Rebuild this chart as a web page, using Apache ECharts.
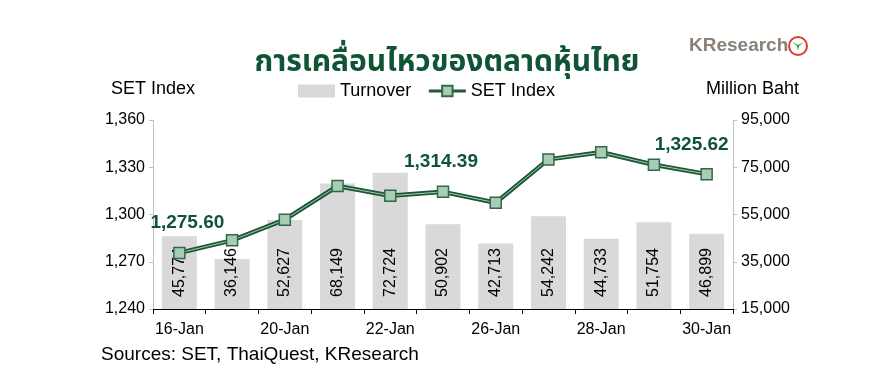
<!DOCTYPE html>
<html><head><meta charset="utf-8">
<script src="https://cdn.jsdelivr.net/npm/echarts@6/dist/echarts.min.js"></script>
<style>html,body{margin:0;padding:0;background:#fff}#c{width:892px;height:380px}</style>
</head><body><div id="c"></div>
<script>
const categories = ['16-Jan','19-Jan','20-Jan','21-Jan','22-Jan','23-Jan','26-Jan','27-Jan','28-Jan','29-Jan','30-Jan'];
const turnover = [45774, 36146, 52627, 68149, 72724, 50902, 42713, 54242, 44733, 51754, 46899];
const setIndex = [1275.60, 1283.6, 1296.7, 1318.1, 1311.9, 1314.39, 1307.5, 1335.0, 1339.5, 1331.6, 1325.62];
const labeledPoints = [0, 5, 10];
const leftTicks = {min: 1240, max: 1360, interval: 30};
const rightTicks = {min: 15000, max: 95000, interval: 20000};

const FONT = 'Liberation Sans, Arial, sans-serif';
const GREEN = '#0f5434';
const labelOffsets = {0: [8, 0], 5: [-2, 0], 10: [-15, 0]};
const fmt2 = v => v.toLocaleString('en-US', {minimumFractionDigits: 2, maximumFractionDigits: 2});

const lineData = setIndex.map((v, i) => {
  if (labeledPoints.indexOf(i) < 0) return v;
  return {value: v, label: {show: true, position: 'top', distance: 14, offset: labelOffsets[i],
    formatter: p => fmt2(p.value), color: GREEN, fontWeight: 'bold', fontSize: 19, fontFamily: FONT}};
});

const chart = echarts.init(document.getElementById('c'), null, {renderer: 'canvas'});
chart.setOption({
  animation: false,
  backgroundColor: '#fff',
  grid: {left: 153, right: 159, top: 120, bottom: 71, containLabel: false},
  title: {text: 'การเคลื่อนไหวของตลาดหุ้นไทย', left: 442, top: 45, textAlign: 'center',
    textStyle: {color: GREEN, fontSize: 30, fontWeight: 'bold', fontFamily: 'Noto Sans Thai, Noto Sans, sans-serif'}},
  legend: {
    top: 77, left: 293, itemGap: 16, itemWidth: 37, itemHeight: 13,
    textStyle: {fontSize: 18, fontFamily: FONT, color: '#000'},
    data: [
      {name: 'Turnover', icon: 'rect'},
      {name: 'SET Index', lineStyle: {color: '#1f5a3a', width: 3}}
    ]
  },
  xAxis: {
    type: 'category', data: categories, boundaryGap: true,
    axisLine: {lineStyle: {color: '#000', width: 1}},
    axisTick: {show: true, interval: 0, alignWithLabel: false, length: 5, lineStyle: {color: '#000'}},
    axisLabel: {interval: 1, fontSize: 16, fontFamily: FONT, color: '#000', margin: 13}
  },
  yAxis: [
    {type: 'value', min: leftTicks.min, max: leftTicks.max, interval: leftTicks.interval,
      axisLine: {show: true, lineStyle: {color: '#bfbfbf'}},
      axisTick: {show: true, length: 4, lineStyle: {color: '#bfbfbf'}},
      splitLine: {show: false},
      axisLabel: {fontSize: 16, fontFamily: FONT, color: '#000', margin: 8,
        formatter: v => v.toLocaleString('en-US')},
      name: 'SET Index', nameLocation: 'end', nameGap: 22,
      nameTextStyle: {fontSize: 18, fontFamily: FONT, color: '#000', align: 'right', padding: [0, -42, 0, 0]}
    },
    {type: 'value', min: rightTicks.min, max: rightTicks.max, interval: rightTicks.interval, position: 'right',
      axisLine: {show: true, lineStyle: {color: '#bfbfbf'}},
      axisTick: {show: true, length: 4, lineStyle: {color: '#bfbfbf'}},
      splitLine: {show: false},
      axisLabel: {fontSize: 16, fontFamily: FONT, color: '#000', margin: 8,
        formatter: v => v.toLocaleString('en-US')},
      name: 'Million Baht', nameLocation: 'end', nameGap: 22,
      nameTextStyle: {fontSize: 18, fontFamily: FONT, color: '#000', align: 'left', padding: [0, 0, 0, -27]}
    }
  ],
  series: [
    {name: 'Turnover', type: 'bar', yAxisIndex: 1, data: turnover, barWidth: 35,
      itemStyle: {color: '#d9d9d9'},
      label: {show: true, position: 'insideBottom', rotate: 90, align: 'left', verticalAlign: 'middle',
        distance: 12, fontSize: 16, fontFamily: FONT, color: '#000',
        formatter: p => p.value.toLocaleString('en-US')}
    },
    {name: 'outline', type: 'line', yAxisIndex: 0, data: setIndex, symbol: 'none', silent: true, z: 3,
      lineStyle: {color: '#1a5535', width: 4.5}},
    {name: 'SET Index', type: 'line', yAxisIndex: 0, data: lineData, z: 4,
      symbol: 'rect', symbolSize: 11, showAllSymbol: true,
      lineStyle: {color: '#a9cdb4', width: 1},
      itemStyle: {color: '#a9cdb4', borderColor: '#2f6a48', borderWidth: 1.5}
    }
  ],
  graphic: [
    {type: 'text', left: 101, top: 345, style: {text: 'Sources: SET, ThaiQuest, KResearch', fontSize: 19, fontFamily: FONT, fill: '#000'}},
    {type: 'text', left: 689, top: 36, style: {text: 'KResearch', fontSize: 19, fontWeight: 'bold', fontFamily: FONT, fill: '#8a817a'}},
    {type: 'circle', shape: {cx: 798, cy: 46, r: 9}, style: {fill: '#fff', stroke: '#e03a2e', lineWidth: 2}},
    {type: 'polygon', shape: {points: [[792, 42], [797, 46], [798, 51], [799, 46], [804, 42], [798, 45]]}, style: {fill: '#2e9a3e'}}
  ]
});
</script></body></html>
